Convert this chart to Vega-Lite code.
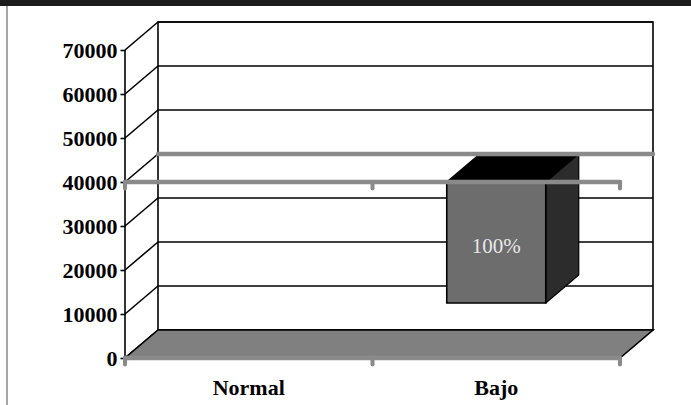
{
  "$schema": "https://vega.github.io/schema/vega-lite/v6.json",
  "width": 528,
  "height": 336,
  "autosize": {"type": "none"},
  "padding": {"left": 125, "top": 22, "right": 38, "bottom": 47},
  "background": "white",
  "config": {"view": {"stroke": null}},
  "resolve": {"axis": {"x": "independent", "y": "independent"}},
  "datasets": {
    "bars": [
      {"cat": "Normal", "i": 0},
      {"cat": "Bajo", "i": 1, "low": 12500, "high": 40000, "share": "100%"}
    ],
    "ticks": [
      {"v": 0}, {"v": 10000}, {"v": 20000}, {"v": 30000},
      {"v": 40000}, {"v": 50000}, {"v": 60000}, {"v": 70000}
    ],
    "ref": [{"v": 0}, {"v": 40000}]
  },
  "data": {"values": [{}]},
  "layer": [
    {
      "mark": {"type": "rect", "fill": "#1c1c1c"},
      "encoding": {
        "x": {"datum": -0.6, "type": "quantitative", "scale": {"domain": [0, 2.1333], "nice": false, "zero": false}, "axis": null},
        "x2": {"datum": 2.4},
        "y": {"datum": 84000, "type": "quantitative", "scale": {"domain": [0, 76364], "nice": false, "zero": false}, "axis": null},
        "y2": {"datum": 80000}
      }
    },
    {
      "mark": {"type": "rule", "stroke": "#a6a6a6", "strokeWidth": 2},
      "encoding": {
        "x": {"datum": -0.4768, "type": "quantitative", "scale": {"domain": [0, 2.1333], "nice": false, "zero": false}, "axis": null},
        "y": {"datum": 80000, "type": "quantitative", "scale": {"domain": [0, 76364], "nice": false, "zero": false}, "axis": null},
        "y2": {"datum": -12000}
      }
    },
    {
      "mark": {"type": "rect", "fill": "white", "stroke": "black", "strokeWidth": 1.6},
      "encoding": {
        "x": {"datum": 0.1333, "type": "quantitative", "scale": {"domain": [0, 2.1333], "nice": false, "zero": false}, "axis": null},
        "x2": {"datum": 2.1333},
        "y": {"datum": 6364, "type": "quantitative", "scale": {"domain": [0, 76364], "nice": false, "zero": false}, "axis": null},
        "y2": {"datum": 76364}
      }
    },
    {
      "data": {"name": "ticks"},
      "transform": [{"calculate": "datum.v + 6364", "as": "vb"}],
      "mark": {"type": "rule", "stroke": "black", "strokeWidth": 1.6},
      "encoding": {
        "x": {"datum": 0.1333, "type": "quantitative", "scale": {"domain": [0, 2.1333], "nice": false, "zero": false}, "axis": null},
        "x2": {"datum": 2.1333},
        "y": {"field": "vb", "type": "quantitative", "scale": {"domain": [0, 76364], "nice": false, "zero": false}, "axis": null}
      }
    },
    {
      "data": {"name": "ticks"},
      "transform": [{"calculate": "datum.v + 6364", "as": "vb"}],
      "mark": {"type": "rule", "stroke": "black", "strokeWidth": 1.6},
      "encoding": {
        "x": {"datum": 0, "type": "quantitative", "scale": {"domain": [0, 2.1333], "nice": false, "zero": false}, "axis": null},
        "x2": {"datum": 0.1333},
        "y": {
          "field": "v", "type": "quantitative",
          "scale": {"domain": [0, 76364], "nice": false, "zero": false},
          "axis": {
            "values": [0, 10000, 20000, 30000, 40000, 50000, 60000, 70000],
            "format": "d", "title": null, "domain": false, "grid": false,
            "tickColor": "black", "tickSize": 5, "tickWidth": 1.6,
            "labelFont": "Liberation Serif", "labelFontWeight": "bold",
            "labelFontSize": 22, "labelColor": "black", "labelPadding": 3
          }
        },
        "y2": {"field": "vb"}
      }
    },
    {
      "transform": [
        {"calculate": "[0,1]", "as": "z"},
        {"flatten": ["z"]},
        {"calculate": "datum.z * 6364", "as": "fy"},
        {"calculate": "datum.z * 0.1333", "as": "fx"},
        {"calculate": "2 + datum.z * 0.1333", "as": "fx2"}
      ],
      "mark": {"type": "area", "orient": "horizontal", "fill": "#808080", "stroke": "black", "strokeWidth": 1.6},
      "encoding": {
        "y": {"field": "fy", "type": "quantitative", "scale": {"domain": [0, 76364], "nice": false, "zero": false}, "axis": null},
        "x": {"field": "fx", "type": "quantitative", "scale": {"domain": [0, 2.1333], "nice": false, "zero": false}, "axis": null, "stack": null},
        "x2": {"field": "fx2"}
      }
    },
    {
      "data": {"name": "bars"},
      "transform": [
        {"filter": "isValid(datum.high)"},
        {"calculate": "[0,1]", "as": "z"},
        {"flatten": ["z"]},
        {"calculate": "datum.high + datum.z * 6364", "as": "ty"},
        {"calculate": "datum.i + 0.3 + datum.z * 0.1333", "as": "tx"},
        {"calculate": "datum.i + 0.7 + datum.z * 0.1333", "as": "tx2"}
      ],
      "mark": {"type": "area", "orient": "horizontal", "fill": "black", "stroke": "black", "strokeWidth": 1.2},
      "encoding": {
        "y": {"field": "ty", "type": "quantitative", "scale": {"domain": [0, 76364], "nice": false, "zero": false}, "axis": null},
        "x": {"field": "tx", "type": "quantitative", "scale": {"domain": [0, 2.1333], "nice": false, "zero": false}, "axis": null, "stack": null},
        "x2": {"field": "tx2"}
      }
    },
    {
      "data": {"name": "bars"},
      "transform": [
        {"filter": "isValid(datum.high)"},
        {"calculate": "[0,1]", "as": "z"},
        {"flatten": ["z"]},
        {"calculate": "datum.i + 0.7 + datum.z * 0.1333", "as": "sx"},
        {"calculate": "datum.low + datum.z * 6364", "as": "sy"},
        {"calculate": "datum.high + datum.z * 6364", "as": "sy2"}
      ],
      "mark": {"type": "area", "orient": "vertical", "fill": "#2c2c2c", "stroke": "black", "strokeWidth": 1.2},
      "encoding": {
        "x": {"field": "sx", "type": "quantitative", "scale": {"domain": [0, 2.1333], "nice": false, "zero": false}, "axis": null},
        "y": {"field": "sy", "type": "quantitative", "scale": {"domain": [0, 76364], "nice": false, "zero": false}, "axis": null, "stack": null},
        "y2": {"field": "sy2"}
      }
    },
    {
      "data": {"name": "bars"},
      "transform": [
        {"filter": "isValid(datum.high)"},
        {"calculate": "datum.i + 0.3", "as": "bx"},
        {"calculate": "datum.i + 0.7", "as": "bx2"}
      ],
      "mark": {"type": "rect", "fill": "#6d6d6d", "stroke": "black", "strokeWidth": 1.6},
      "encoding": {
        "x": {"field": "bx", "type": "quantitative", "scale": {"domain": [0, 2.1333], "nice": false, "zero": false}, "axis": null},
        "x2": {"field": "bx2"},
        "y": {"field": "low", "type": "quantitative", "scale": {"domain": [0, 76364], "nice": false, "zero": false}, "axis": null},
        "y2": {"field": "high"}
      }
    },
    {
      "mark": {"type": "rule", "stroke": "black", "strokeWidth": 1.6},
      "encoding": {
        "x": {"datum": 0, "type": "quantitative", "scale": {"domain": [0, 2.1333], "nice": false, "zero": false}, "axis": null},
        "y": {"datum": 0, "type": "quantitative", "scale": {"domain": [0, 76364], "nice": false, "zero": false}, "axis": null},
        "y2": {"datum": 70000}
      }
    },
    {
      "data": {"name": "ref"},
      "transform": [{"filter": "datum.v > 0"}, {"calculate": "datum.v + 6364", "as": "vb"}],
      "mark": {"type": "rule", "stroke": "#8a8a8a", "strokeWidth": 4.5, "strokeCap": "round"},
      "encoding": {
        "x": {"datum": 0.1333, "type": "quantitative", "scale": {"domain": [0, 2.1333], "nice": false, "zero": false}, "axis": null},
        "x2": {"datum": 2.1333},
        "y": {"field": "vb", "type": "quantitative", "scale": {"domain": [0, 76364], "nice": false, "zero": false}, "axis": null}
      }
    },
    {
      "data": {"name": "ref"},
      "mark": {"type": "rule", "stroke": "#8a8a8a", "strokeWidth": 4.5, "strokeCap": "round"},
      "encoding": {
        "x": {"datum": 0, "type": "quantitative", "scale": {"domain": [0, 2.1333], "nice": false, "zero": false}, "axis": null},
        "x2": {"datum": 2},
        "y": {"field": "v", "type": "quantitative", "scale": {"domain": [0, 76364], "nice": false, "zero": false}, "axis": null}
      }
    },
    {
      "data": {"name": "ref"},
      "transform": [
        {"calculate": "[0,1,2]", "as": "e"},
        {"flatten": ["e"]},
        {"calculate": "datum.v - 1500", "as": "v2"}
      ],
      "mark": {"type": "rule", "stroke": "#8a8a8a", "strokeWidth": 4, "strokeCap": "round"},
      "encoding": {
        "x": {"field": "e", "type": "quantitative", "scale": {"domain": [0, 2.1333], "nice": false, "zero": false}, "axis": null},
        "y": {"field": "v", "type": "quantitative", "scale": {"domain": [0, 76364], "nice": false, "zero": false}, "axis": null},
        "y2": {"field": "v2"}
      }
    },
    {
      "data": {"name": "bars"},
      "transform": [
        {"filter": "isValid(datum.high)"},
        {"calculate": "(datum.low + datum.high) / 2", "as": "mid"},
        {"calculate": "datum.i + 0.5", "as": "cx"}
      ],
      "mark": {"type": "text", "font": "Liberation Serif", "fontSize": 21, "color": "#e8e8e8", "baseline": "middle", "align": "center", "dy": 4},
      "encoding": {
        "x": {"field": "cx", "type": "quantitative", "scale": {"domain": [0, 2.1333], "nice": false, "zero": false}, "axis": null},
        "y": {"field": "mid", "type": "quantitative", "scale": {"domain": [0, 76364], "nice": false, "zero": false}, "axis": null},
        "text": {"field": "share"}
      }
    },
    {
      "data": {"name": "bars"},
      "transform": [{"calculate": "datum.i + 0.5", "as": "cx"}],
      "mark": {"type": "text", "font": "Liberation Serif", "fontWeight": "bold", "fontSize": 22, "color": "black", "baseline": "middle", "align": "center"},
      "encoding": {
        "x": {"field": "cx", "type": "quantitative", "scale": {"domain": [0, 2.1333], "nice": false, "zero": false}, "axis": null},
        "y": {"datum": -6800, "type": "quantitative", "scale": {"domain": [0, 76364], "nice": false, "zero": false}, "axis": null},
        "text": {"field": "cat"}
      }
    }
  ]
}
